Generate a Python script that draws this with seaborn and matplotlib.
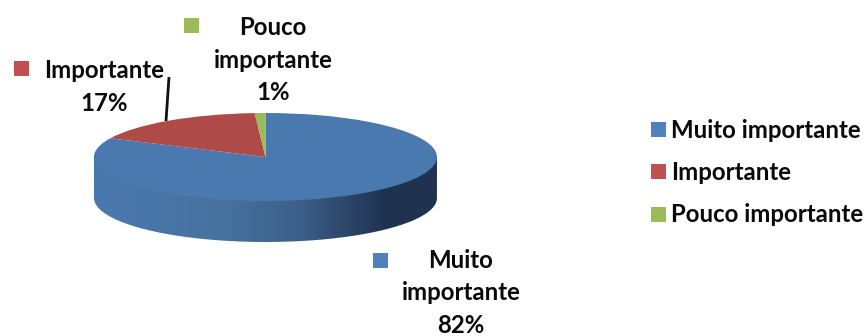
import numpy as np
import matplotlib
matplotlib.use("Agg")
import matplotlib.pyplot as plt
from matplotlib.colors import LinearSegmentedColormap
from matplotlib.patches import PathPatch, Rectangle
from matplotlib.path import Path
import seaborn as sns

categories = ["Muito importante", "Importante", "Pouco importante"]
shares = [82, 17, 1]
slice_labels = ["Muito\nimportante\n82%", "Importante\n17%", "Pouco\nimportante\n1%"]

sns.set_theme(style="white")
plt.rcParams["font.family"] = ["Lato", "DejaVu Sans"]
plt.rcParams["font.weight"] = "bold"

W, H = 867, 336
top_colors = sns.color_palette(["#4a79b0", "#ae4a47", "#9bbb59"])
key_colors = sns.color_palette(["#4f81bd", "#c0504d", "#9bbb59"])
text_color = "#0a0a0a"
font_px = 24.0
font_pt = font_px * 72 / 100

fig = plt.figure(figsize=(W / 100, H / 100), dpi=100, facecolor="white")

# Full-figure layer in pixel units for the labels and keys
overlay = fig.add_axes([0, 0, 1, 1], zorder=3)
overlay.set_xlim(0, W)
overlay.set_ylim(H, 0)
overlay.axis("off")

# Pie top squashed into an ellipse to suggest a tilted disc
left, right, top, bottom = 94, 437, 113, 201
half_h = (bottom - top) / 2
depth_px = 41
ax = fig.add_axes([left / W, 1 - bottom / H, (right - left) / W, (bottom - top) / H], zorder=2)
wedges, _ = ax.pie(shares, colors=top_colors, startangle=90, counterclock=False,
                   radius=1, wedgeprops={"linewidth": 0})
ax.set_aspect("auto")
ax.set_xlim(-1, 1)
ax.set_ylim(-1, 1)

# Side wall of the disc: lower half of the rim swept downward, darkening to the right.
# Its upper edge runs slightly under the top face so no seam shows between them.
depth = depth_px / half_h
overlap = 0.08
theta = np.linspace(np.pi, 2 * np.pi, 200)
rim_x, rim_y = np.cos(theta), np.sin(theta)
wall_xy = np.vstack([np.column_stack([rim_x, rim_y + overlap]),
                     np.column_stack([rim_x[::-1], rim_y[::-1] - depth])])
wall_ax = fig.add_axes([left / W, 1 - (bottom + depth_px) / H, (right - left) / W,
                        (bottom + depth_px - top) / H], zorder=1)
wall = PathPatch(Path(np.vstack([wall_xy, wall_xy[:1]])), facecolor="none", edgecolor="none",
                 transform=wall_ax.transData)
wall_ax.add_patch(wall)
shade = LinearSegmentedColormap.from_list(
    "wall", [(0, "#4a79b0"), (0.38, "#47729f"), (0.60, "#3c5f88"), (0.85, "#1f3350"), (1, "#1f3350")])
img = wall_ax.imshow(np.linspace(0, 1, 256).reshape(1, -1), cmap=shade, aspect="auto",
                     extent=(-1, 1, -1 - depth, 1))
img.set_clip_path(wall)
wall_ax.set_xlim(-1, 1)
wall_ax.set_ylim(-1 - depth, 1)
wall_ax.axis("off")

# Slice labels, each with its colour key
label_style = dict(ha="center", va="center", fontsize=font_pt, color=text_color, linespacing=1.5)
overlay.text(461, 293, slice_labels[0], **label_style)
overlay.text(104, 87, slice_labels[1], **label_style)
overlay.text(273, 60, slice_labels[2], **label_style)
for (kx, ky), color in zip([(373, 253), (14, 61), (184, 18)], key_colors):
    overlay.add_patch(Rectangle((kx, ky), 15, 15, facecolor=color, edgecolor="none"))
overlay.plot([169, 166], [77, 121], color="#111111", lw=2, solid_capstyle="butt")

# Legend on the right
for cat, color, y in zip(categories, key_colors, [130, 172, 215]):
    overlay.add_patch(Rectangle((651, y - 8), 15, 15, facecolor=color, edgecolor="none"))
    overlay.text(671, y, cat, ha="left", va="center", fontsize=font_pt, color=text_color)

fig.savefig("out.png", dpi=100, facecolor="white")
